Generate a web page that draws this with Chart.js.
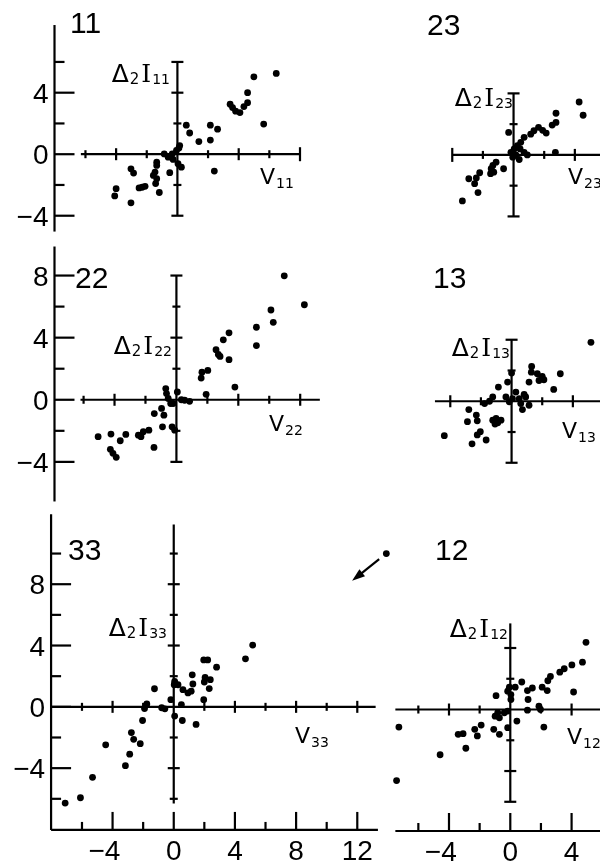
<!DOCTYPE html>
<html><head><meta charset="utf-8">
<style>html,body{margin:0;padding:0;background:#fff;}canvas{display:block;}</style>
<script src="https://cdn.jsdelivr.net/npm/chart.js@4.4.1/dist/chart.umd.min.js"></script>
</head><body>
<canvas id="c" width="600" height="867"></canvas>
<script>
// ---- data: [V, Δ2I] pairs ----
const pts11 = [[6.45,5.25],[4.99,5.03],[4.58,4.0],[4.58,3.35],[4.34,3.1],[4.08,2.71],[3.8,2.8],[3.6,3.03],[3.44,3.25],[5.63,1.96],[2.15,1.89],[2.62,1.63],[2.15,0.92],[1.4,0.82],[0.58,1.89],[0.8,1.38],[2.41,-1.1],[0.15,0.56],[-0.06,0.24],[-0.34,0.02],[-0.86,0.02],[-0.6,-0.19],[-0.28,-0.34],[0.04,-0.62],[0.26,-0.84],[-0.5,-1.2],[-1.35,-0.52],[-1.35,-0.73],[-1.46,-1.16],[-1.57,-1.38],[-1.35,-1.59],[-1.42,-1.91],[-1.18,-2.49],[-3.03,-0.95],[-2.86,-1.23],[-2.11,-2.09],[-2.3,-2.15],[-2.5,-2.19],[-4.0,-2.24],[-4.09,-2.71],[-3.03,-3.16],[0.1,0.4]];
const pts23 = [[4.28,3.44],[4.54,2.58],[2.77,2.71],[2.77,2.11],[2.52,1.94],[2.13,1.42],[1.9,1.6],[1.63,1.79],[1.33,1.57],[1.12,1.35],[0.69,1.14],[2.73,0.17],[-0.32,1.46],[0.47,0.82],[0.25,0.6],[0.04,0.39],[0.43,0.39],[-0.17,0.17],[0.15,0],[0.69,0.17],[0.9,0],[0.37,-0.3],[-0.05,-0.15],[-0.65,-0.9],[-1.14,-0.47],[-1.35,-0.69],[-1.46,-0.9],[-1.5,-1.22],[-1.29,-1.12],[-2.21,-1.16],[-2.43,-1.5],[-2.92,-1.55],[-2.54,-1.87],[-2.32,-2.45],[-3.34,-2.99]];
const pts22 = [[6.97,7.98],[8.27,6.12],[6.11,5.78],[6.26,4.99],[5.17,4.67],[5.17,3.49],[3.4,4.31],[3.03,3.86],[2.56,3.22],[2.71,2.92],[2.82,2.79],[3.4,2.58],[3.78,0.82],[2.03,1.89],[1.65,1.78],[1.6,1.4],[1.92,0.35],[0.06,0.5],[0.32,0],[0.53,-0.03],[0.85,-0.1],[-0.69,0.72],[-0.64,0.4],[-0.53,0.08],[-0.37,-0.24],[-0.21,-0.24],[-0.96,-0.56],[-0.81,-0.99],[-1.43,-0.89],[-0.9,-1.74],[-0.28,-1.74],[-0.11,-1.96],[-1.45,-3.07],[-1.78,-1.96],[-2.14,-2.06],[-2.46,-2.28],[-2.29,-2.38],[-3.27,-2.23],[-3.63,-2.64],[-4.23,-2.21],[-5.06,-2.38],[-4.27,-3.19],[-4.1,-3.45],[-3.89,-3.71]];
const pts13 = [[5.18,3.83],[3.18,1.79],[2.75,0.77],[1.31,2.26],[1.29,1.89],[1.68,1.79],[2.0,1.61],[2.11,1.4],[1.79,1.35],[1.14,1.25],[0,1.83],[-0.26,1.25],[-0.86,0.92],[0.28,0.6],[0.82,0.45],[0.92,0.28],[-0.37,0.28],[-0.15,-0.04],[0.06,0.17],[0.5,0.17],[0.6,-0.15],[1.14,-0.26],[0.71,-0.54],[-1.23,0.28],[-1.44,0],[-1.76,-0.15],[-1.23,-1.23],[-1.01,-1.12],[-0.9,-1.4],[-0.69,-1.23],[-1.08,-1.48],[-2.79,-0.54],[-2.3,-0.9],[-2.24,-1.27],[-2.88,-1.33],[-2.04,-1.98],[-2.24,-2.19],[-1.66,-2.52],[-2.58,-2.77],[-4.39,-2.24]];
const pts33 = [[5.16,4.03],[4.69,3.13],[2.8,2.59],[1.96,3.06],[2.22,3.06],[2.05,1.92],[2.39,1.77],[2.0,1.62],[2.32,1.19],[1.96,0.47],[1.21,2.09],[1.25,1.49],[1.14,1.02],[0.93,0.91],[0.6,1.12],[0.28,1.44],[0.06,1.66],[0.03,1.44],[-0.19,0.47],[0.5,0.15],[0.06,-0.6],[0.56,-0.89],[1.46,-1.15],[-0.58,-0.13],[-0.79,-0.06],[-1.26,1.18],[-1.76,0.19],[-1.91,-0.11],[-2.04,-0.89],[-2.77,-1.68],[-2.62,-2.12],[-2.19,-2.4],[-2.88,-3.09],[-3.16,-3.84],[-4.45,-2.48],[-5.31,-4.6],[-6.1,-5.93],[-7.1,-6.28],[13.9,10.0]];
const pts12 = [[4.94,4.37],[4.71,3.08],[4.02,2.9],[3.52,2.65],[3.23,2.43],[2.62,2.15],[2.45,1.87],[2.08,1.45],[2.41,1.23],[4.13,1.14],[1.44,1.4],[1.12,1.23],[0.75,1.79],[0.32,1.45],[-0.06,1.45],[-0.17,1.19],[0.04,0.97],[0.04,0.65],[-0.93,0.9],[1.16,0.65],[1.12,-0.04],[1.87,0.22],[1.97,0],[0.43,-0.75],[-0.17,-1.18],[2.19,-1.14],[-0.82,-0.21],[-0.99,-0.43],[-0.71,-0.54],[-0.39,-0.21],[-0.17,-0.1],[-1.08,-1.29],[-0.71,-1.61],[-1.9,-1.01],[-2.32,-1.29],[-2.15,-1.72],[-3.08,-1.57],[-3.4,-1.61],[-2.9,-2.52],[-4.58,-2.94],[-7.27,-1.14],[-7.42,-4.62]];

// axis tick values / labels
const outerTicks11 = [6,4,2,0,-2,-4];
const outerTicks22 = [8,6,4,2,0,-2,-4];
const outerTicks33 = [10,8,6,4,2,0,-2,-4,-6];
const bottomTicksLeft = [-6,-4,-2,0,2,4,6,8,10,12];
const bottomTicksRight = [-6,-4,-2,0,2,4,6];

// ---- layout (pixels) ----
const W = 600, H = 867;
const panels = [
  {key:'11', data:pts11, x0:176, y0:152, s:15.5, sy:15.5,
   label:{x:70, y:33}, dlab:{r:170, y:82}, vlab:{x:260, y:184},
   outer:{x:-8.02, from:8.4, to:-5.03, ticks:outerTicks11},
   vax:{from:-4, to:6, capTop:true, capBot:true, ticks:[4,2,-2]},
   hax:{from:-6.3, to:8, capL:false, capR:true, ticks:[-6,-4,-2,2,4,6]}},
  {key:'23', data:pts23, x0:516, y0:152.7, s:15.5, sy:15.5,
   label:{x:427, y:35}, dlab:{r:513, y:106}, vlab:{x:568, y:184},
   vax:{from:-4, to:4, capTop:true, capBot:true, ticks:[2,-2]},
   hax:{from:-4, to:7, capL:true, capR:false, ticks:[-2,2,4]}},
  {key:'22', data:pts22, x0:175, y0:399.5, s:15.65, sy:15.65,
   label:{x:75, y:288}, dlab:{r:172, y:354}, vlab:{x:269, y:431},
   outer:{x:-7.88, from:9.87, to:-6.55, ticks:outerTicks22},
   vax:{from:-4, to:8, capTop:true, capBot:true, ticks:[6,4,2,-2]},
   hax:{from:-6.2, to:9.27, capL:false, capR:false, ticks:[-6,-4,-2,2,4,6,8]}},
  {key:'13', data:pts13, x0:514, y0:401, s:15.5, sy:15.5,
   label:{x:433, y:288}, dlab:{r:510, y:356}, vlab:{x:562, y:438},
   vax:{from:-4, to:4, capTop:true, capBot:true, ticks:[2,-2]},
   hax:{from:-5, to:7, capL:false, capR:false, ticks:[-4,-2,2,4]}},
  {key:'33', data:pts33, x0:172.3, y0:709, s:15.47, sy:15.45,
   label:{x:68, y:560}, dlab:{r:167, y:636}, vlab:{x:295, y:743},
   outer:{x:-8.02, from:12.56, to:-8.03, ticks:outerTicks33},
   vax:{from:-6.3, to:11.9, capTop:false, capBot:false, ticks:[10,8,6,4,2,-2,-4,-6]},
   hax:{from:-8.02, to:13.2, capL:false, capR:false, ticks:[-6,-4,-2,2,4,6,8,10,12]},
   bottom:{y:-8.03, from:-8.02, to:13.35, ticks:bottomTicksLeft},
   arrow:{tail:[13.43,9.64], head:[11.66,8.22]}},
  {key:'12', data:pts12, x0:512.7, y0:711.7, s:15.5, sy:15.5,
   label:{x:435, y:560}, dlab:{r:508, y:637}, vlab:{x:567, y:744},
   vax:{from:-6, to:5.6, capTop:false, capBot:true, ticks:[4,2,-2,-4]},
   hax:{from:-7.5, to:7, capL:false, capR:false, ticks:[-6,-4,-2,2,4]},
   bottom:{y:-7.9, from:-7.5, to:7, ticks:bottomTicksRight}}
];

const NUMFONT = '28px "Liberation Sans", Arial, sans-serif';
const PANELFONT = '30px "Liberation Sans", Arial, sans-serif';
const SANS = '"DejaVu Sans", "Liberation Sans", sans-serif';
const SERIF = '"DejaVu Serif", "Liberation Serif", serif';
const fmt = v => v < 0 ? '\u2212' + Math.abs(v) : String(v);

const scales = {
  x:{type:'linear', display:false, min:0, max:1},
  y:{type:'linear', display:false, min:0, max:1}
};
panels.forEach(p => {
  scales['x'+p.key] = {type:'linear', axis:'x', position:'bottom', display:false,
    min:-p.x0/p.s, max:(W-p.x0)/p.s};
  scales['y'+p.key] = {type:'linear', axis:'y', position:'left', display:false,
    min:-(H-p.y0)/p.sy, max:p.y0/p.sy};
});

function rich(ctx, parts, x, y, alignRight){
  let total = 0;
  parts.forEach(pt => { ctx.font = pt.f; pt.w = ctx.measureText(pt.t).width; total += pt.w + (pt.g||0); });
  let cur = alignRight ? x - total : x;
  parts.forEach(pt => { ctx.font = pt.f; ctx.fillText(pt.t, cur, y + (pt.dy||0)); cur += pt.w + (pt.g||0); });
}

const decor = {
  id:'decor',
  afterDatasetsDraw(chart){
    const ctx = chart.ctx;
    ctx.save();
    ctx.strokeStyle = '#000'; ctx.fillStyle = '#000';
    ctx.lineWidth = 2.2; ctx.lineCap = 'butt';
    ctx.textBaseline = 'alphabetic';
    const seg = (a,b,c,d) => { ctx.beginPath(); ctx.moveTo(a,b); ctx.lineTo(c,d); ctx.stroke(); };
    panels.forEach(p => {
      const X = v => chart.scales['x'+p.key].getPixelForValue(v);
      const Y = v => chart.scales['y'+p.key].getPixelForValue(v);
      const x0 = X(0), y0 = Y(0);
      // outer left axis
      if (p.outer){
        const ox = X(p.outer.x);
        seg(ox, Y(p.outer.from), ox, Y(p.outer.to));
        ctx.font = NUMFONT; ctx.textAlign = 'right';
        p.outer.ticks.forEach(t => {
          const major = t % 4 === 0;
          seg(ox, Y(t), ox + (major ? 20 : 10), Y(t));
          if (major) ctx.fillText(fmt(t), ox - 6, Y(t) + 10);
        });
        ctx.textAlign = 'left';
      }
      // inner vertical axis
      const v = p.vax;
      seg(x0, Y(v.from), x0, Y(v.to));
      if (v.capTop) seg(x0-6, Y(v.to), x0+6, Y(v.to));
      if (v.capBot) seg(x0-6, Y(v.from), x0+6, Y(v.from));
      v.ticks.forEach(t => { const l = t % 4 === 0 ? 6 : 4; seg(x0-l, Y(t), x0+l, Y(t)); });
      // inner horizontal axis
      const h = p.hax;
      seg(X(h.from), y0, X(h.to), y0);
      if (h.capL) seg(X(h.from), y0-7, X(h.from), y0+7);
      if (h.capR) seg(X(h.to), y0-7, X(h.to), y0+7);
      h.ticks.forEach(t => { const l = t % 4 === 0 ? 6 : 4; seg(X(t), y0-l, X(t), y0+l); });
      // bottom axis
      if (p.bottom){
        const by = Y(p.bottom.y);
        seg(X(p.bottom.from), by, X(p.bottom.to), by);
        ctx.font = NUMFONT;
        p.bottom.ticks.forEach(t => {
          const major = t % 4 === 0;
          seg(X(t), by, X(t), by - (major ? 18 : 8));
          if (major){
            const s = fmt(t);
            const wd = ctx.measureText(String(Math.abs(t))).width;
            ctx.textAlign = 'right';
            ctx.fillText(s, X(t) + wd/2, by + 30);
          }
        });
        ctx.textAlign = 'left';
      }
      // arrow
      if (p.arrow){
        const tx = X(p.arrow.tail[0]), ty = Y(p.arrow.tail[1]);
        const hx = X(p.arrow.head[0]), hy = Y(p.arrow.head[1]);
        const dx = hx - tx, dy = hy - ty, L = Math.hypot(dx, dy);
        const ux = dx/L, uy = dy/L, nx = -uy, ny = ux;
        seg(tx, ty, hx - ux*8, hy - uy*8);
        ctx.beginPath();
        ctx.moveTo(hx, hy);
        ctx.lineTo(hx - ux*13 + nx*4.5, hy - uy*13 + ny*4.5);
        ctx.lineTo(hx - ux*13 - nx*4.5, hy - uy*13 - ny*4.5);
        ctx.closePath(); ctx.fill();
      }
      // panel label
      ctx.font = PANELFONT; ctx.textAlign = 'left';
      ctx.fillText(p.key, p.label.x, p.label.y);
      // Δ2I label
      rich(ctx, [
        {t:'\u0394', f:'25px ' + SANS, g:1},
        {t:'2', f:'15px ' + SANS, dy:2, g:2},
        {t:'I', f:'25px ' + SERIF, g:1},
        {t:p.key, f:'14px ' + SANS, dy:2}
      ], p.dlab.r, p.dlab.y, true);
      // V label
      rich(ctx, [
        {t:'V', f:'22px ' + SANS, g:1},
        {t:p.key, f:'14px ' + SANS, dy:4}
      ], p.vlab.x, p.vlab.y, false);
    });
    ctx.restore();
  }
};

new Chart(document.getElementById('c'), {
  type:'scatter',
  data:{
    datasets: panels.map(p => ({
      label:'panel ' + p.key,
      data:p.data.map(d => ({x:d[0], y:d[1]})),
      xAxisID:'x'+p.key, yAxisID:'y'+p.key,
      pointRadius:3.4, pointHoverRadius:3.4,
      backgroundColor:'#000', borderColor:'#000', borderWidth:0
    }))
  },
  options:{
    responsive:false, animation:false, devicePixelRatio:1,
    layout:{padding:0},
    scales:scales,
    plugins:{legend:{display:false}, tooltip:{enabled:false}}
  },
  plugins:[decor]
});
</script>
</body></html>
